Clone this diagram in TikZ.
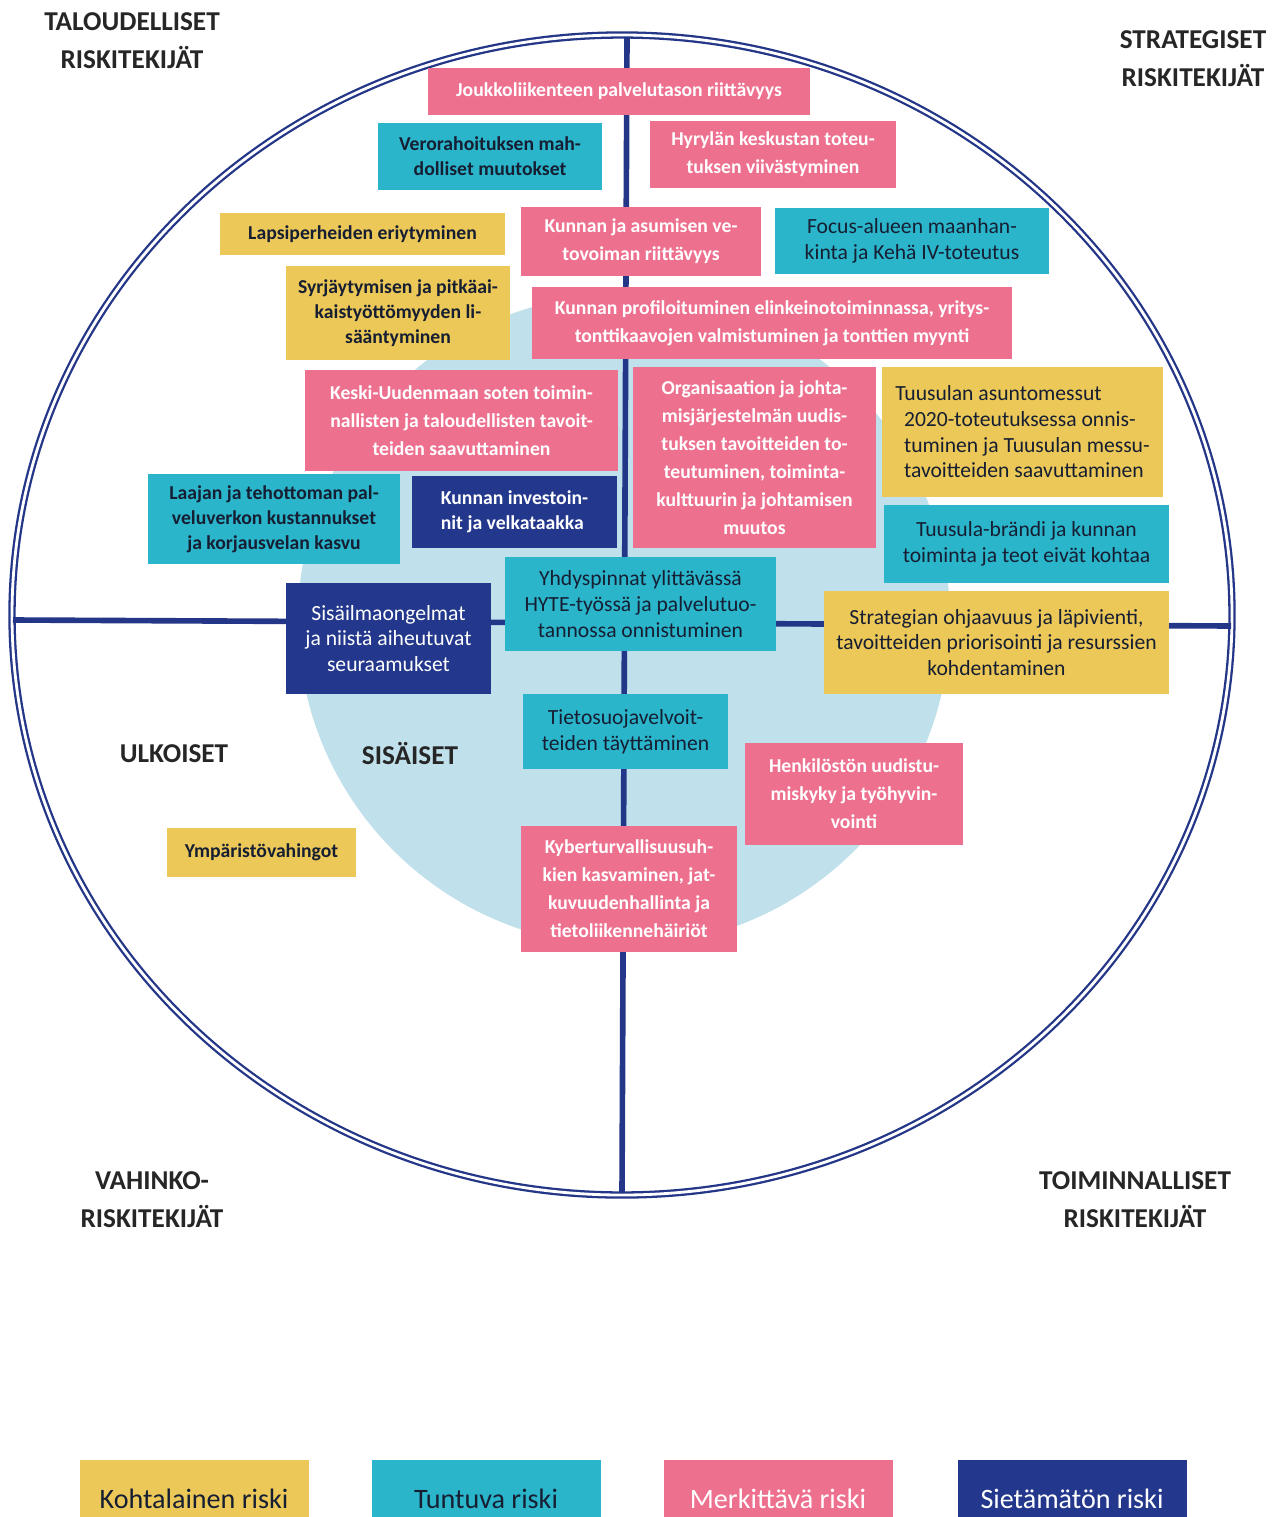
\documentclass[tikz,border=0pt]{standalone}
\usepackage{fontspec}
\setmainfont{Carlito}
\definecolor{riskyellow}{RGB}{236,200,88}
\definecolor{riskteal}{RGB}{42,181,203}
\definecolor{riskpink}{RGB}{238,112,143}
\definecolor{risknavy}{RGB}{35,56,140}
\definecolor{axisblue}{RGB}{36,54,135}
\definecolor{innerblue}{RGB}{192,225,235}
\definecolor{darktext}{RGB}{22,30,50}
\definecolor{labelgray}{RGB}{38,38,38}
% box from its corners (pixels of the original)
\newcommand\riskbox[7]{%
\node[#1, minimum width={(#5-#3)*0.02cm}, minimum height={(#6-#4)*0.02cm}] (#2) at ({(#3+#5)/2},{(#4+#6)/2}) {#7};}
\begin{document}
\begin{tikzpicture}[x=0.02cm,y=-0.02cm,
  box/.style={inner sep=0pt, align=center},
  pinkbox/.style={box, fill=riskpink, text=white, font=\fontsize{11.2}{15.9}\selectfont\bfseries},
  tealbox/.style={box, fill=riskteal, text=darktext, font=\fontsize{11.2}{14.2}\selectfont\bfseries},
  yellowbox/.style={box, fill=riskyellow, text=darktext, font=\fontsize{11.2}{14.2}\selectfont\bfseries},
  navybox/.style={box, fill=risknavy, text=white, font=\fontsize{11.2}{14.2}\selectfont\bfseries},
  bigtext/.style={font=\fontsize{12.3}{14.6}\selectfont},
  riskilabel/.style={text=labelgray, align=center, font=\fontsize{15.5}{21.5}\selectfont\bfseries},
  legend/.style={box, minimum width=229*0.02cm, minimum height=57*0.02cm, text height=27.8pt, text depth=4.5pt, font=\fontsize{16}{18}\selectfont}]
\useasboundingbox (0,0) rectangle (1284,1517);
\fill[white] (0,0) rectangle (1284,1517);
%\draw[step=100,gray,very thin] (0,0) grid (1284,1517);
\fill[innerblue] (624,620) circle (326);
\draw[axisblue, line width=1.3pt, double=white, double distance=1.6pt] (622,615) ellipse [x radius=610, y radius=580];
\coordinate (top) at (627,37);
\coordinate (bottom) at (622,1193);
\coordinate (left) at (13,620);
\coordinate (right) at (1231,626);
\draw[axisblue, line width=3.2pt] (top) -- (bottom);
\draw[axisblue, line width=3.2pt] (left) -- (right);

\riskbox{pinkbox}{joukko}{428}{68}{810}{115}{Joukkoliikenteen palvelutason riittävyys}
\riskbox{tealbox}{vero}{378}{123}{602}{190}{Verorahoituksen mah-\\dolliset muutokset}
\riskbox{pinkbox}{hyryla}{650}{121}{896}{188}{Hyrylän keskustan toteu-\\tuksen viivästyminen}
\riskbox{yellowbox}{lapsi}{220}{213}{505}{255}{Lapsiperheiden eriytyminen}
\riskbox{pinkbox}{vetovoima}{521}{207}{761}{276}{Kunnan ja asumisen ve-\\tovoiman riittävyys}
\riskbox{tealbox,bigtext}{focus}{775}{208}{1049}{274}{Focus-alueen maanhan-\\kinta ja Kehä IV-toteutus}
\riskbox{yellowbox}{syrja}{286}{266}{510}{360}{Syrjäytymisen ja pitkäai-\\kaistyöttömyyden li-\\sääntyminen}
\riskbox{pinkbox}{profiili}{532}{287}{1012}{359}{Kunnan profiloituminen elinkeinotoiminnassa, yritys-\\tonttikaavojen valmistuminen ja tonttien myynti}
\riskbox{pinkbox}{sote}{305}{370}{618}{471}{Keski-Uudenmaan soten toimin-\\nallisten ja taloudellisten tavoit-\\teiden saavuttaminen}
\riskbox{pinkbox}{organisaatio}{633}{367}{876}{548}{Organisaation ja johta-\\misjärjestelmän uudis-\\tuksen tavoitteiden to-\\teutuminen, toiminta-\\kulttuurin ja johtamisen\\muutos}
\riskbox{yellowbox,bigtext,align=left}{messut}{882}{367}{1163}{497}{Tuusulan asuntomessut\\\hspace{5pt}2020-toteutuksessa onnis-\\\hspace{5pt}tuminen ja Tuusulan messu-\\\hspace{5pt}tavoitteiden saavuttaminen}
\riskbox{tealbox}{palveluverkko}{148}{474}{400}{564}{Laajan ja tehottoman pal-\\veluverkon kustannukset\\ja korjausvelan kasvu}
\riskbox{navybox,align=left}{investoinnit}{412}{476}{617}{548}{Kunnan investoin-\\nit ja velkataakka}
\riskbox{tealbox,bigtext}{brandi}{884}{505}{1169}{583}{Tuusula-brändi ja kunnan\\toiminta ja teot eivät kohtaa}
\riskbox{tealbox,bigtext}{hyte}{505}{557}{776}{651}{Yhdyspinnat ylittävässä\\HYTE-työssä ja palvelutuo-\\tannossa onnistuminen}
\riskbox{navybox,bigtext}{sisailma}{286}{583}{491}{694}{Sisäilmaongelmat\\ja niistä aiheutuvat\\seuraamukset}
\riskbox{yellowbox,bigtext}{strategia}{824}{591}{1169}{694}{Strategian ohjaavuus ja läpivienti,\\tavoitteiden priorisointi ja resurssien\\kohdentaminen}
\riskbox{tealbox,bigtext}{tietosuoja}{523}{694}{728}{769}{Tietosuojavelvoit-\\teiden täyttäminen}
\riskbox{pinkbox}{henkilosto}{745}{743}{963}{845}{Henkilöstön uudistu-\\miskyky ja työhyvin-\\vointi}
\riskbox{yellowbox}{ymparisto}{167}{828}{356}{877}{Ympäristövahingot}
\riskbox{pinkbox}{kyber}{521}{826}{737}{952}{Kyberturvallisuusuh-\\kien kasvaminen, jat-\\kuvuudenhallinta ja\\tietoliikennehäiriöt}

\node[riskilabel] (taloudelliset) at (132,41) {TALOUDELLISET\\RISKITEKIJÄT};
\node[riskilabel] (strategiset) at (1193,59) {STRATEGISET\\RISKITEKIJÄT};
\node[riskilabel] (vahinko) at (152,1200) {VAHINKO-\\RISKITEKIJÄT};
\node[riskilabel] (toiminnalliset) at (1135,1200) {TOIMINNALLISET\\RISKITEKIJÄT};
\node[riskilabel] (ulkoiset) at (174,754) {ULKOISET};
\node[riskilabel] (sisaiset) at (410,754) {SISÄISET};

\node[legend, fill=riskyellow, text=darktext] (kohtalainen) at (194,1488.5) {Kohtalainen riski};
\node[legend, fill=riskteal, text=darktext] (tuntuva) at (486,1488.5) {Tuntuva riski};
\node[legend, fill=riskpink, text=white] (merkittava) at (778,1488.5) {Merkittävä riski};
\node[legend, fill=risknavy, text=white] (sietamaton) at (1072,1488.5) {Sietämätön riski};
\end{tikzpicture}
\end{document}
